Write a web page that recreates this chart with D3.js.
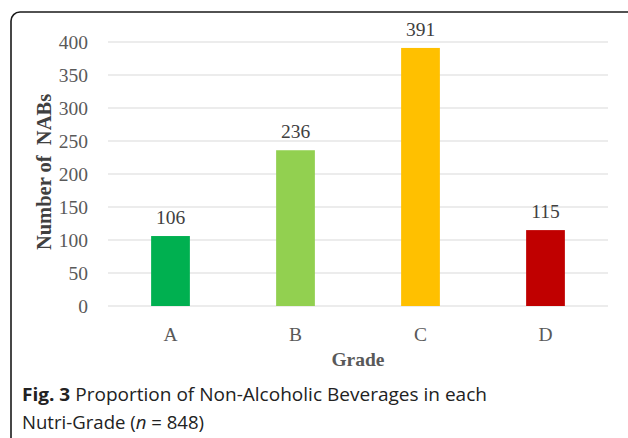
<!DOCTYPE html>
<html>
<head>
<meta charset="utf-8">
<script src="https://cdn.jsdelivr.net/npm/d3@7"></script>
<style>
  body { margin: 0; background: #fff; }
</style>
</head>
<body>
<div id="chart"></div>
<script>
// Nutri-Grade bar chart, Fig. 3
const grades = ["A", "B", "C", "D"];
const counts = [106, 236, 391, 115];
const barColors = ["#00b050", "#92d050", "#ffc000", "#c00000"];
const yTicks = [0, 50, 100, 150, 200, 250, 300, 350, 400];

const width = 628;
const height = 438;
const margin = ({top: 42, right: 20, bottom: 132, left: 108});
const plotRight = 608;

const svg = d3.select("#chart")
  .append("svg")
  .attr("width", width)
  .attr("height", height);

// frame round the whole figure (runs off right and bottom)
svg.append("rect")
  .attr("x", 11)
  .attr("y", 12)
  .attr("width", 628)
  .attr("height", 440)
  .attr("rx", 9)
  .attr("fill", "none")
  .attr("stroke", "#1a1a1a")
  .attr("stroke-width", 1.6);

const x = d3.scaleBand()
  .domain(grades)
  .range([margin.left, plotRight])
  .paddingInner(0.69)
  .paddingOuter(0.345);

const y = d3.scaleLinear()
  .domain([0, 400])
  .range([306, margin.top]);

// gridlines
svg.append("g")
  .selectAll("line")
  .data(yTicks)
  .join("line")
    .attr("x1", margin.left)
    .attr("x2", plotRight)
    .attr("y1", d => y(d))
    .attr("y2", d => y(d))
    .attr("stroke", "#d9d9d9")
    .attr("stroke-width", 1.2);

const yAxis = g => g
  .attr("transform", `translate(${margin.left},0)`)
  .call(d3.axisLeft(y).tickValues(yTicks).tickSize(0).tickPadding(20))
  .call(g => g.select(".domain").remove())
  .call(g => g.selectAll("text")
      .attr("font-family", "'Liberation Serif', 'Times New Roman', serif")
      .attr("font-size", 19.5)
      .attr("fill", "#595959"));

const xAxis = g => g
  .attr("transform", `translate(0,${y(0)})`)
  .call(d3.axisBottom(x).tickSize(0).tickPadding(21))
  .call(g => g.select(".domain").remove())
  .call(g => g.selectAll("text")
      .attr("font-family", "'Liberation Serif', 'Times New Roman', serif")
      .attr("font-size", 19.5)
      .attr("fill", "#595959"));

svg.append("g").call(yAxis);
svg.append("g").call(xAxis);

// bars
svg.append("g")
  .selectAll("rect")
  .data(counts)
  .join("rect")
    .attr("x", (d, i) => x(grades[i]))
    .attr("y", d => y(d))
    .attr("width", x.bandwidth())
    .attr("height", d => y(0) - y(d))
    .attr("fill", (d, i) => barColors[i]);

// value labels
svg.append("g")
  .selectAll("text")
  .data(counts)
  .join("text")
    .attr("x", (d, i) => x(grades[i]) + x.bandwidth() / 2)
    .attr("y", d => y(d) - 12)
    .attr("text-anchor", "middle")
    .attr("font-family", "'Liberation Serif', 'Times New Roman', serif")
    .attr("font-size", 19.5)
    .attr("fill", "#404040")
    .text(d => d);

// axis titles
svg.append("text")
  .attr("x", 358)
  .attr("y", 366)
  .attr("text-anchor", "middle")
  .attr("font-family", "'Liberation Serif', 'Times New Roman', serif")
  .attr("font-weight", "bold")
  .attr("font-size", 19.5)
  .attr("fill", "#595959")
  .text("Grade");

svg.append("text")
  .attr("transform", "translate(51,172) rotate(-90)")
  .attr("text-anchor", "middle")
  .attr("font-family", "'Liberation Serif', 'Times New Roman', serif")
  .attr("font-weight", "bold")
  .attr("font-size", 20.5)
  .attr("fill", "#404040")
  .attr("xml:space", "preserve")
  .text("Number of  NABs");

// caption
const cap1 = svg.append("text")
  .attr("x", 22)
  .attr("y", 401)
  .attr("font-family", "'Open Sans', sans-serif")
  .attr("font-size", 18)
  .attr("fill", "#222")
  .attr("textLength", 465)
  .attr("lengthAdjust", "spacingAndGlyphs");
cap1.append("tspan").attr("font-weight", "bold").text("Fig. 3");
cap1.append("tspan").text(" Proportion of Non-Alcoholic Beverages in each");

const cap2 = svg.append("text")
  .attr("x", 22)
  .attr("y", 429)
  .attr("font-family", "'Open Sans', sans-serif")
  .attr("font-size", 18)
  .attr("fill", "#222")
  .attr("textLength", 182)
  .attr("lengthAdjust", "spacingAndGlyphs");
cap2.append("tspan").text("Nutri-Grade (");
cap2.append("tspan").attr("font-style", "italic").text("n");
cap2.append("tspan").text(" = 848)");
</script>
</body>
</html>
